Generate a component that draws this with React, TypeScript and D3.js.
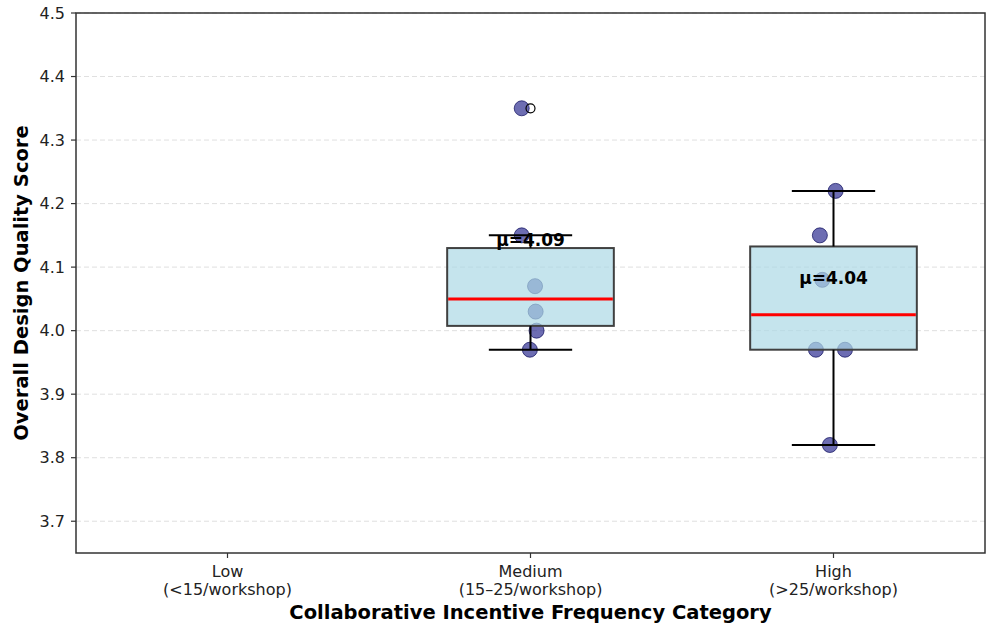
import React from 'react';
import * as d3 from 'd3';

const width = 988;
const height = 626;
const margin = { top: 13, right: 3, bottom: 73, left: 76 };

const categories = ['Low', 'Medium', 'High'];
const categoryRanges = ['(<15/workshop)', '(15–25/workshop)', '(>25/workshop)'];

// observed scores and the horizontal jitter used for each point (category units)
const mediumScores = [4.35, 4.15, 4.07, 4.03, 4.0, 3.97];
const mediumJitter = [-0.029, -0.029, 0.015, 0.017, 0.02, -0.002];
const highScores = [4.22, 4.15, 4.08, 3.97, 3.97, 3.82];
const highJitter = [0.007, -0.045, -0.037, -0.058, 0.038, -0.012];

const yTicks = [3.7, 3.8, 3.9, 4.0, 4.1, 4.2, 4.3, 4.4, 4.5];

const groups = [
  { cat: 1, scores: mediumScores, jitter: mediumJitter },
  { cat: 2, scores: highScores, jitter: highJitter },
];

function boxStats(values: number[]) {
  const s = values.slice().sort(d3.ascending);
  const q1 = d3.quantile(s, 0.25) as number;
  const med = d3.quantile(s, 0.5) as number;
  const q3 = d3.quantile(s, 0.75) as number;
  const iqr = q3 - q1;
  const lo = d3.min(s.filter(v => v >= q1 - 1.5 * iqr)) as number;
  const hi = d3.max(s.filter(v => v <= q3 + 1.5 * iqr)) as number;
  const fliers = s.filter(v => v < lo || v > hi);
  return { q1, med, q3, lo, hi, fliers, mean: d3.mean(s) as number };
}

export default function App() {
  const innerW = width - margin.left - margin.right;
  const innerH = height - margin.top - margin.bottom;

  const x = d3.scaleLinear().domain([-0.5, 2.5]).range([0, innerW]);
  const y = d3.scaleLinear().domain([3.65, 4.5]).range([innerH, 0]);

  const boxW = x(0.55) - x(0);
  const capW = boxW / 2;
  const font = 'DejaVu Sans, sans-serif';

  return (
    <svg width={width} height={height} style={{ position: 'absolute', left: 0, top: 0 }} fontFamily={font}>
      <rect width={width} height={height} fill="white" />
      <g transform={`translate(${margin.left},${margin.top})`}>
        {/* grid */}
        {yTicks.map(t => (
          <line key={t} x1={0} x2={innerW} y1={y(t)} y2={y(t)} stroke="#d9d9d9" strokeWidth={1} strokeDasharray="5,3" opacity={0.8} />
        ))}

        {/* jittered points, under the boxes */}
        {groups.map(g => g.scores.map((v, i) => (
          <circle key={`${g.cat}-${i}`} cx={x(g.cat + g.jitter[i])} cy={y(v)} r={7.5}
            fill="rgba(20,20,130,0.62)" stroke="rgba(10,10,90,0.7)" strokeWidth={1} />
        )))}

        {groups.map(g => {
          const st = boxStats(g.scores);
          const cx = x(g.cat);
          return (
            <g key={g.cat}>
              <rect x={cx - boxW / 2} y={y(st.q3)} width={boxW} height={y(st.q1) - y(st.q3)}
                fill="rgba(173,216,230,0.7)" stroke="#404040" strokeWidth={2} />
              <line x1={cx} x2={cx} y1={y(st.q3)} y2={y(st.hi)} stroke="black" strokeWidth={2} />
              <line x1={cx} x2={cx} y1={y(st.q1)} y2={y(st.lo)} stroke="black" strokeWidth={2} />
              <line x1={cx - capW / 2} x2={cx + capW / 2} y1={y(st.hi)} y2={y(st.hi)} stroke="black" strokeWidth={2} />
              <line x1={cx - capW / 2} x2={cx + capW / 2} y1={y(st.lo)} y2={y(st.lo)} stroke="black" strokeWidth={2} />
              <line x1={cx - boxW / 2 + 1} x2={cx + boxW / 2 - 1} y1={y(st.med)} y2={y(st.med)} stroke="#ff0000" strokeWidth={3} />
              {st.fliers.map((f, i) => (
                <circle key={i} cx={cx} cy={y(f)} r={4.5} fill="none" stroke="black" strokeWidth={1.2} />
              ))}
              <text x={cx} y={y(st.mean) - 24} textAnchor="middle" fontWeight="bold" fontSize={17} fill="black">
                {`μ=${st.mean.toFixed(2)}`}
              </text>
            </g>
          );
        })}

        {/* frame */}
        <rect x={0} y={0} width={innerW} height={innerH} fill="none" stroke="#333" strokeWidth={1.5} />

        {/* y axis */}
        {yTicks.map(t => (
          <g key={t} transform={`translate(0,${y(t)})`}>
            <line x1={-5} x2={0} stroke="#333" strokeWidth={1.2} />
            <text x={-11} dy="0.35em" textAnchor="end" fontSize={16} fill="#222">{t.toFixed(1)}</text>
          </g>
        ))}

        {/* x axis */}
        {categories.map((c, i) => (
          <g key={c} transform={`translate(${x(i)},${innerH})`}>
            <line y1={0} y2={5} stroke="#333" strokeWidth={1.2} />
            <text y={24} textAnchor="middle" fontSize={16} fill="#222">{c}</text>
            <text y={42} textAnchor="middle" fontSize={16} fill="#222">{categoryRanges[i]}</text>
          </g>
        ))}

        <text x={innerW / 2} y={innerH + 66} textAnchor="middle" fontWeight="bold" fontSize={19.5} fill="black">
          Collaborative Incentive Frequency Category
        </text>
        <text transform={`translate(${-48},${innerH / 2}) rotate(-90)`} textAnchor="middle" fontWeight="bold" fontSize={19.5} fill="black">
          Overall Design Quality Score
        </text>
      </g>
    </svg>
  );
}
